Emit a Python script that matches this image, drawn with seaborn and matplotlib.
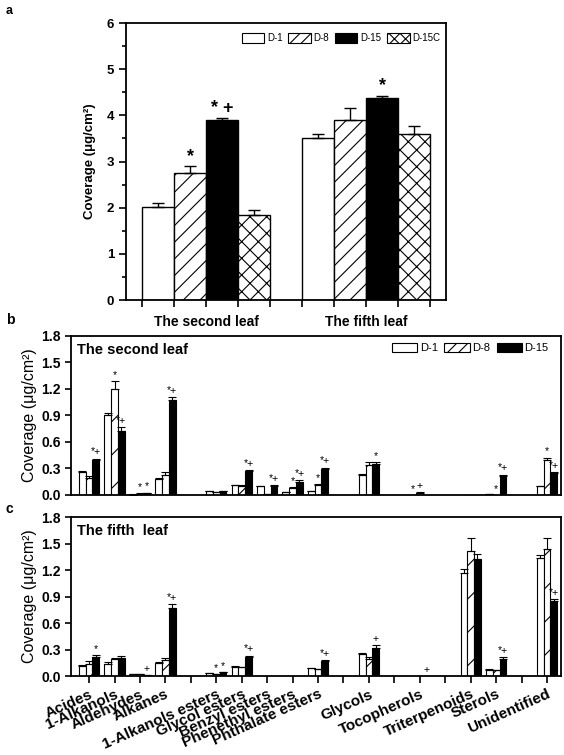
import numpy as np
import pandas as pd
import matplotlib
matplotlib.use("Agg")
import matplotlib.pyplot as plt
from matplotlib.patches import Patch
from matplotlib.ticker import MultipleLocator, FixedLocator
import seaborn as sns

# ---------------- panel a : total wax coverage ----------------
leaves = ["The second leaf", "The fifth leaf"]
treat_a = ["D-1", "D-8", "D-15", "D-15C"]
total_d1 = [2.01, 3.52]
total_d8 = [2.75, 3.89]
total_d15 = [3.89, 4.37]
total_d15c = [1.85, 3.59]
err_d1 = [0.09, 0.08]
err_d8 = [0.15, 0.27]
err_d15 = [0.05, 0.06]
err_d15c = [0.11, 0.17]
sig_a = [("The second leaf", "D-8", "*"),
         ("The second leaf", "D-15", "* +"),
         ("The fifth leaf", "D-15", "*")]

# ---------------- panels b, c : compound classes ----------------
classes = ["Acides", "1-Alkanols", "Aldehydes", "Alkanes", "1-Alkanols esters",
           "Glycol esters", "Benzyl esters", "Phenethyl esters", "Phthalate esters",
           "Glycols", "Tocopherols", "Triterpenoids", "Sterols", "Unidentified"]
gaps_after = ["Alkanes", "Phthalate esters", "Glycols", "Tocopherols", "Sterols"]
treat_bc = ["D-1", "D-8", "D-15"]

second_d1 = [0.26, 0.90, 0.005, 0.18, 0.04, 0.11, 0.10, 0.03, 0.04, 0.23, 0.0, 0.0, 0.01, 0.10]
second_d8 = [0.19, 1.20, 0.015, 0.23, 0.03, 0.105, 0.01, 0.075, 0.11, 0.34, 0.025, 0.0, 0.0, 0.40]
second_d15 = [0.40, 0.72, 0.02, 1.08, 0.045, 0.27, 0.10, 0.15, 0.29, 0.35, 0.0, 0.0, 0.22, 0.25]
second_d1_err = [0.01, 0.03, 0.002, 0.01, 0.003, 0.005, 0.005, 0.005, 0.005, 0.01, 0.0, 0.0, 0.002, 0.005]
second_d8_err = [0.025, 0.09, 0.003, 0.03, 0.003, 0.005, 0.002, 0.01, 0.01, 0.03, 0.005, 0.0, 0.0, 0.02]
second_d15_err = [0.01, 0.05, 0.003, 0.03, 0.003, 0.01, 0.01, 0.02, 0.02, 0.02, 0.0, 0.0, 0.01, 0.01]
second_sig = [("Acides", "D-15", "*+"), ("1-Alkanols", "D-8", "*"), ("1-Alkanols", "D-15", "*+"),
              ("Aldehydes", "D-8", "*"), ("Aldehydes", "D-15", "*"), ("Alkanes", "D-15", "*+"),
              ("Glycol esters", "D-15", "*+"), ("Benzyl esters", "D-15", "*+"),
              ("Phenethyl esters", "D-8", "*"), ("Phenethyl esters", "D-15", "*+"),
              ("Phthalate esters", "D-8", "*"), ("Phthalate esters", "D-15", "*+"),
              ("Glycols", "D-15", "*"), ("Tocopherols", "D-1", "*"), ("Tocopherols", "D-8", "+"),
              ("Sterols", "D-8", "*"), ("Sterols", "D-15", "*+"),
              ("Unidentified", "D-8", "*"), ("Unidentified", "D-15", "*+")]

fifth_d1 = [0.11, 0.14, 0.02, 0.15, 0.03, 0.10, 0.0, 0.0, 0.09, 0.25, 0.0, 1.17, 0.07, 1.34]
fifth_d8 = [0.14, 0.19, 0.02, 0.18, 0.02, 0.10, 0.0, 0.0, 0.08, 0.19, 0.0, 1.41, 0.065, 1.44]
fifth_d15 = [0.21, 0.205, 0.01, 0.77, 0.04, 0.22, 0.0, 0.0, 0.17, 0.32, 0.0, 1.33, 0.19, 0.85]
fifth_d1_err = [0.01, 0.02, 0.003, 0.01, 0.003, 0.01, 0.0, 0.0, 0.005, 0.015, 0.0, 0.04, 0.005, 0.03]
fifth_d8_err = [0.025, 0.01, 0.005, 0.02, 0.003, 0.005, 0.0, 0.0, 0.005, 0.02, 0.0, 0.15, 0.005, 0.12]
fifth_d15_err = [0.025, 0.02, 0.002, 0.04, 0.005, 0.01, 0.0, 0.0, 0.01, 0.03, 0.0, 0.05, 0.02, 0.02]
fifth_sig = [("Acides", "D-15", "*"), ("Aldehydes", "D-15", "+"), ("Alkanes", "D-15", "*+"),
             ("1-Alkanols esters", "D-8", "*"), ("1-Alkanols esters", "D-15", "*"),
             ("Glycol esters", "D-15", "*+"), ("Phthalate esters", "D-15", "*+"),
             ("Glycols", "D-15", "+"), ("Tocopherols", "D-15", "+"),
             ("Sterols", "D-15", "*+"), ("Unidentified", "D-15", "*+")]

sns.set_theme(style="ticks", rc={"axes.edgecolor": "black", "text.color": "black",
                                 "xtick.color": "black", "ytick.color": "black",
                                 "axes.labelcolor": "black"})
plt.rcParams['font.family'] = ['Liberation Sans', 'DejaVu Sans']
plt.rcParams['hatch.linewidth'] = 0.8

hatch_a = ["", "//", "", "xx"]
color_a = ["white", "white", "black", "white"]
hatch_bc = ["", "/", ""]
color_bc = ["white", "white", "black"]


def long_df(cats, levels, means, errs):
    rows = []
    for lev, m, e in zip(levels, means, errs):
        for c, v, ee in zip(cats, m, e):
            rows.append({"cat": c, "treat": lev, "value": v, "err": ee})
    return pd.DataFrame(rows)


def draw_bars(ax, df, order, levels, colors, hatches, sig, lw, capsize, sig_size, sig_weight):
    sns.barplot(data=df, x="cat", y="value", hue="treat", order=order, hue_order=levels,
                palette=dict(zip(levels, colors)), saturation=1, width=0.8,
                edgecolor="black", linewidth=lw, errorbar=None, legend=False, ax=ax)
    bar_conts = list(ax.containers)
    lookup = {(r.cat, r.treat): (r.value, r.err) for r in df.itertuples()}
    centers = {}
    for cont, lev, h in zip(bar_conts, levels, hatches):
        for bar in cont:
            bar.set_hatch(h)
            xc = bar.get_x() + bar.get_width() / 2
            cat = order[int(round(xc))]
            v, e = lookup[(cat, lev)]
            centers[(cat, lev)] = xc
            if e > 0:
                ax.errorbar(xc, v, yerr=[[0], [e]], fmt="none", ecolor="black",
                            elinewidth=lw, capsize=capsize, capthick=lw, zorder=3)
    for cat, lev, s in sig:
        v, e = lookup[(cat, lev)]
        ax.annotate(s, (centers[(cat, lev)], v + e), xytext=(0, 1), textcoords="offset points",
                    ha="center", va="bottom", fontsize=sig_size, fontweight=sig_weight)
    ax.set_xlabel("")
    for sp in ax.spines.values():
        sp.set_visible(True)
        sp.set_linewidth(1.3)
    return bar_conts


fig = plt.figure(figsize=(5.64, 7.55), dpi=100)

# ---------- panel a ----------
ax_a = fig.add_axes([0.2234, 0.6026, 0.5674, 0.3669])
df_a = long_df(leaves, treat_a, [total_d1, total_d8, total_d15, total_d15c],
               [err_d1, err_d8, err_d15, err_d15c])
conts_a = draw_bars(ax_a, df_a, leaves, treat_a, color_a, hatch_a, sig_a, 1.0, 4, 13, "bold")
ax_a.set_xlim(-0.5, 1.5)
ax_a.set_ylim(0, 6)
ax_a.yaxis.set_major_locator(MultipleLocator(1))
ax_a.yaxis.set_minor_locator(MultipleLocator(0.5))
edges = sorted({round(b.get_x(), 3) for c in conts_a for b in c} |
               {round(b.get_x() + b.get_width(), 3) for c in conts_a for b in c})
ax_a.xaxis.set_minor_locator(FixedLocator(edges))
ax_a.tick_params(axis="both", which="major", length=5, width=1.2, labelsize=9.5)
ax_a.tick_params(axis="both", which="minor", length=3, width=1.2)
ax_a.tick_params(axis="x", which="minor", length=5)
ax_a.tick_params(axis="x", which="major", length=5, labelsize=10, pad=6)
for lab in ax_a.get_xticklabels() + ax_a.get_yticklabels():
    lab.set_fontweight("bold")
ax_a.set_ylabel("Coverage (μg/cm²)", fontsize=9.5, fontweight="bold", labelpad=8)
handles_a = [Patch(facecolor=c, edgecolor="black", hatch=h, linewidth=0.8, label=l)
             for c, h, l in zip(color_a, ["", "///", "", "xxx"], treat_a)]
ax_a.legend(handles=handles_a, loc="center right", bbox_to_anchor=(0.995, 0.946),
            ncol=4, frameon=False, fontsize=7, handlelength=2.3, handleheight=1.2,
            handletextpad=0.3, columnspacing=0.6, borderaxespad=0)

# ---------- panels b, c ----------
order_bc = []
for c in classes:
    order_bc.append(c)
    if c in gaps_after:
        order_bc.append("_gap%d" % gaps_after.index(c))

panels = [
    ([0.1259, 0.3444, 0.8688, 0.2106], "The second leaf",
     [second_d1, second_d8, second_d15], [second_d1_err, second_d8_err, second_d15_err], second_sig),
    ([0.1259, 0.1046, 0.8688, 0.2106], "The fifth  leaf",
     [fifth_d1, fifth_d8, fifth_d15], [fifth_d1_err, fifth_d8_err, fifth_d15_err], fifth_sig),
]
axes_bc = []
for rect, title, means, errs, sig in panels:
    ax = fig.add_axes(rect)
    df = long_df(classes, treat_bc, means, errs)
    draw_bars(ax, df, order_bc, treat_bc, color_bc, hatch_bc, sig, 0.8, 3, 7.5, "normal")
    ax.set_xlim(-0.71, 18.55)
    ax.set_ylim(0, 1.8)
    ax.set_yticks(np.arange(0, 1.81, 0.3))
    ax.set_yticklabels(["%.1f" % t for t in np.arange(0, 1.81, 0.3)], fontweight="bold")
    ax.tick_params(axis="y", length=4, width=1.2, labelsize=10)
    ax.set_ylabel("Coverage (μg/cm²)", fontsize=11.5, labelpad=3)
    ax.text(0.012, 0.91, title, transform=ax.transAxes, fontsize=10.5,
            fontweight="bold", va="center", ha="left")
    axes_bc.append(ax)

ax_b, ax_c = axes_bc
ax_b.set_xticks([])
ax_c.set_xticks(range(len(order_bc)))
ax_c.set_xticklabels(["" if s.startswith("_gap") else s for s in order_bc],
                     rotation=24, ha="right", rotation_mode="anchor",
                     fontweight="bold", fontsize=11)
ax_c.tick_params(axis="x", length=5, width=1.2, pad=3)

handles_b = [Patch(facecolor=c, edgecolor="black", hatch=h, linewidth=0.8, label=l)
             for c, h, l in zip(color_bc, ["", "///", ""], treat_bc)]
ax_b.legend(handles=handles_b, loc="center right", bbox_to_anchor=(0.984, 0.925),
            ncol=3, frameon=False, fontsize=8, handlelength=2.3, handleheight=0.9,
            handletextpad=0.2, columnspacing=0.6, borderaxespad=0)

fig.text(0.01, 0.993, "a", fontsize=9, fontweight="bold", va="top")
fig.text(0.01, 0.576, "b", fontsize=10, fontweight="bold", va="center")
fig.text(0.01, 0.326, "c", fontsize=10, fontweight="bold", va="center")

fig.savefig("out.png", dpi=100)
